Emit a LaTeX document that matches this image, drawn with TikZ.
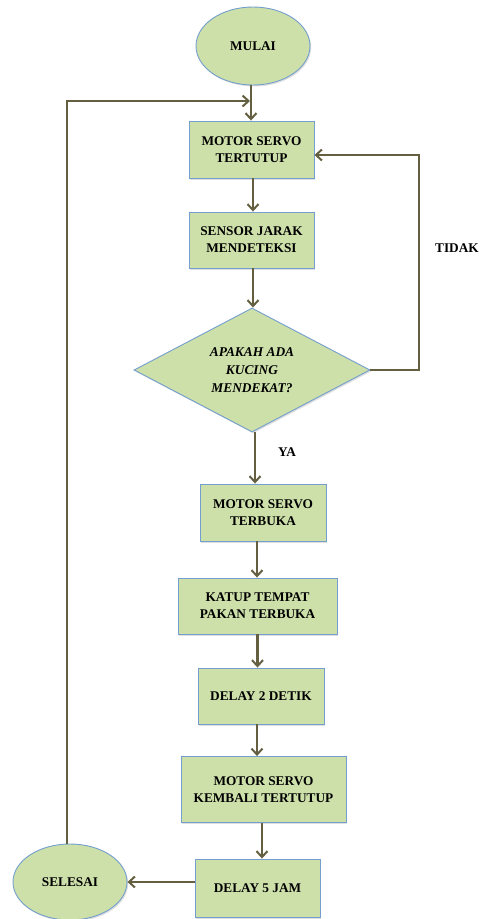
\documentclass[tikz,border=0pt]{standalone}
\usepackage{fontspec}
\setmainfont{Liberation Serif}
\usetikzlibrary{shapes.geometric,arrows.meta,shadows}
\definecolor{boxfill}{RGB}{205,224,170}
\definecolor{boxline}{RGB}{115,158,205}
\definecolor{arrowc}{RGB}{100,95,65}
\tikzset{
  base/.style={draw=boxline, fill=boxfill, line width=0.9pt, align=center,
    font=\bfseries\fontsize{13.3}{17}\selectfont, inner sep=0pt,
    drop shadow={shadow xshift=1.2pt, shadow yshift=-1.5pt, opacity=0.25}},
  procbox/.style={base, rectangle},
  termin/.style={base, ellipse},
  decis/.style={base, diamond, shape aspect=2, font=\bfseries\itshape\fontsize{13.4}{18}\selectfont},
  conn/.style={draw=arrowc, line width=2.6pt, -{Straight Barb[length=6pt,width=11pt,line width=2pt]}},
  lbl/.style={font=\bfseries\fontsize{13.3}{15}\selectfont}
}
\begin{document}
\begin{tikzpicture}[x=1pt,y=-1pt]
\useasboundingbox (0,0) rectangle (481,919);
\node[termin, minimum width=114pt, minimum height=78pt] (mulai) at (253,46) {MULAI};
\node[procbox, minimum width=125pt, minimum height=57pt] (b1) at (251.5,149.5) {MOTOR SERVO\\TERTUTUP};
\node[procbox, minimum width=125pt, minimum height=56pt] (b2) at (251.5,240) {SENSOR JARAK\\MENDETEKSI};
\node[decis, minimum width=236pt, minimum height=124pt] (dia) at (252,370) {APAKAH ADA\\KUCING\\MENDEKAT?};
\node[procbox, minimum width=126pt, minimum height=57pt] (b3) at (263,512.5) {MOTOR SERVO\\TERBUKA};
\node[procbox, minimum width=159pt, minimum height=56pt] (b4) at (257.5,606) {KATUP TEMPAT\\PAKAN TERBUKA};
\node[procbox, minimum width=126pt, minimum height=56pt] (b5) at (261,696) {DELAY 2 DETIK};
\node[procbox, minimum width=165pt, minimum height=66pt] (b6) at (263.5,789.5) {MOTOR SERVO\\KEMBALI TERTUTUP};
\node[procbox, minimum width=125pt, minimum height=58pt] (b7) at (257.5,888) {DELAY 5 JAM};
\node[termin, minimum width=114pt, minimum height=76pt] (selesai) at (70,882) {SELESAI};
\node[lbl] (tidak) at (457,248) {TIDAK};
\node[lbl] (ya) at (287,452) {YA};
\coordinate (lp) at (67,101);
\coordinate (rp) at (419,155);
\coordinate (tx) at (251,101);
% connectors
\draw[conn] (mulai.south -| tx) -- (b1.north -| tx);
\draw[conn] ([xshift=1.5pt]b1.south) -- ([xshift=1.5pt]b2.north);
\draw[conn] ([xshift=1.5pt]b2.south) -- ([xshift=1.5pt]b2.south |- dia.north);
\draw[conn] ([xshift=3pt]dia.south) -- ([xshift=3pt]dia.south |- b3.north);
\draw[conn] ([xshift=-6pt]b3.south) -- ([xshift=-6pt]b3.south |- b4.north);
\draw[conn] (b4.south) -- (b4.south |- b5.north);
\draw[conn] ([xshift=-4pt]b5.south) -- ([xshift=-4pt]b5.south |- b6.north);
\draw[conn] ([xshift=-1.5pt]b6.south) -- ([xshift=-1.5pt]b6.south |- b7.north);
\draw[conn] (b7.west |- selesai.east) -- (selesai.east);
\draw[conn] (dia.east) -- (dia.east -| rp) -- (rp) -- (b1.east |- rp);
\draw[conn] (lp |- selesai.north) -- (lp) -- ([xshift=-1pt]tx);
\end{tikzpicture}
\end{document}
